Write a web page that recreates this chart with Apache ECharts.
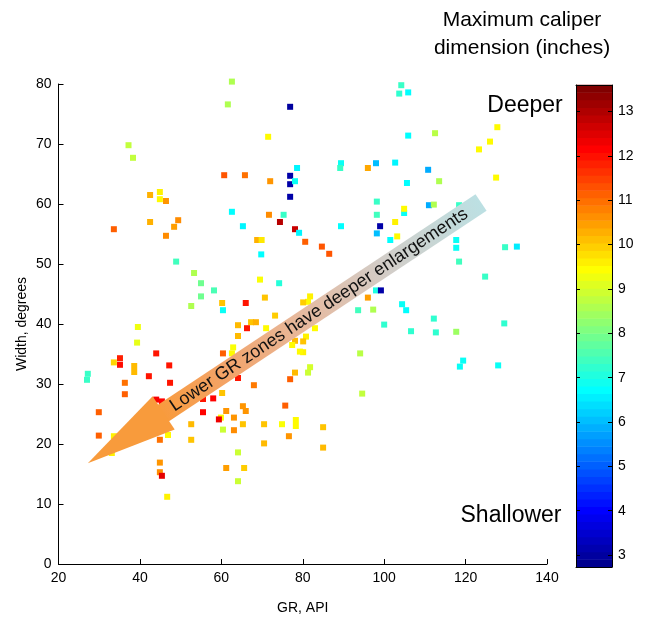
<!DOCTYPE html>
<html><head><meta charset="utf-8">
<script src="https://cdn.jsdelivr.net/npm/echarts@6/dist/echarts.min.js"></script>
<style>html,body{margin:0;padding:0;background:#fff}#c{width:650px;height:620px}</style>
</head><body><div id="c"></div>
<script>
// GR (API)
const gr = [
 37.2, 38.3, 42.5, 44.9, 44.9, 46.4, 49.4, 42.5, 48.4, 33.6,
 46.4, 62.6, 61.6, 76.9, 71.5, 78.6, 60.7, 65.8, 76.9, 76.9,
 78.1, 72.0, 76.9, 62.6, 71.7, 75.3, 65.3, 74.4, 78.1, 79.1,
 68.8, 69.9, 80.6, 104.2, 103.7, 105.9, 105.9, 89.4, 89.2, 98.0,
 96.0, 102.7, 110.8, 105.6, 98.2, 98.2, 104.9, 104.9, 102.7, 89.4,
 99.0, 98.2, 103.2, 101.5, 112.5, 127.8, 126.0, 123.3, 113.5, 127.5,
 111.0, 112.2, 118.4, 117.7, 117.7, 129.7, 132.6, 118.4, 124.8, 112.2,
 129.5, 112.7, 117.7, 119.4, 118.6, 128.0, 84.7, 86.5, 98.0, 99.2,
 96.0, 93.6, 97.3, 104.4, 105.4, 100.0, 106.6, 94.1, 81.8, 81.3,
 94.6, 81.8, 81.3, 80.1, 83.0, 80.8, 80.1, 80.1, 48.9, 39.5,
 39.3, 44.0, 35.1, 35.1, 33.6, 38.6, 38.6, 47.2, 42.2, 47.4,
 27.2, 27.0, 36.3, 36.3, 29.9, 44.0, 45.4, 29.9, 33.6, 33.1,
 52.6, 52.6, 44.9, 44.9, 45.4, 46.7, 44.9, 46.9, 59.9, 55.5,
 55.5, 58.0, 59.4, 60.4, 60.2, 61.2, 63.1, 63.1, 65.3, 65.3,
 66.0, 64.1, 65.6, 61.2, 64.1, 70.5, 70.5, 74.9, 75.7, 76.6,
 78.3, 78.3, 52.6, 60.2, 60.4, 66.0, 73.2, 67.3, 68.5, 64.1,
 64.1, 66.3, 71.0, 78.1, 77.4, 79.3, 62.9, 62.6, 60.4, 78.1,
 76.9, 68.0, 64.1, 85.0, 85.0, 69.8, 53.3, 55.0, 55.0, 58.2,
 69.5, 74.2, 70.7
];
// Width (degrees)
const widthDeg = [
 69.8, 67.7, 61.5, 62.0, 60.8, 60.5, 57.3, 57.0, 56.2, 55.8,
 54.7, 80.4, 76.6, 76.2, 71.2, 66.0, 64.8, 64.8, 64.7, 63.3,
 63.8, 63.8, 61.2, 58.7, 58.2, 58.2, 56.3, 57.0, 55.8, 55.2,
 54.0, 54.0, 53.7, 79.8, 78.4, 78.6, 71.4, 66.8, 66.0, 66.8,
 66.0, 66.9, 65.7, 63.5, 60.4, 58.2, 58.5, 59.2, 57.0, 56.3,
 56.3, 55.1, 54.6, 54.0, 71.8, 72.8, 70.4, 69.1, 63.8, 64.4,
 59.8, 59.9, 59.8, 54.0, 52.7, 52.8, 52.9, 50.4, 47.9, 40.9,
 40.1, 38.6, 38.7, 33.9, 32.9, 33.1, 52.9, 51.7, 45.6, 45.6,
 44.4, 42.3, 42.4, 43.3, 42.3, 39.9, 38.8, 35.1, 32.8, 31.9,
 28.4, 44.6, 43.7, 43.6, 39.3, 37.9, 37.1, 35.3, 50.4, 39.5,
 36.9, 35.1, 34.3, 33.2, 33.6, 33.0, 32.0, 33.1, 31.3, 30.2,
 31.7, 30.7, 30.2, 28.3, 25.3, 27.4, 27.1, 21.4, 21.3, 18.5,
 20.7, 23.3, 16.9, 15.3, 14.7, 11.2, 20.7, 21.5, 24.4, 25.3,
 27.5, 27.6, 24.1, 22.4, 28.5, 25.5, 24.4, 22.3, 23.3, 26.3,
 25.5, 18.6, 16.0, 16.0, 13.8, 23.3, 20.1, 23.3, 26.4, 21.3,
 24.0, 23.0, 43.0, 43.5, 42.3, 43.5, 41.4, 40.3, 40.3, 39.8,
 38.0, 39.3, 39.3, 37.2, 36.5, 35.4, 36.1, 35.1, 35.1, 31.9,
 30.8, 29.8, 31.0, 22.8, 19.4, 51.6, 48.5, 46.8, 44.6, 45.6,
 47.4, 46.8, 44.4
];
// Maximum caliper dimension (inches)
const caliper = [
 8.8, 8.8, 10.3, 9.6, 9.5, 10.6, 10.7, 10.3, 10.5, 11.2,
 10.7, 8.6, 8.6, 2.9, 9.5, 6.6, 11.3, 11.0, 3.0, 3.0,
 6.8, 10.6, 3.0, 6.7, 10.7, 7.3, 6.6, 13.0, 12.8, 6.6,
 10.3, 9.7, 11.2, 7.3, 7.2, 6.7, 6.7, 6.8, 7.3, 6.0,
 10.4, 6.6, 5.8, 6.7, 7.3, 7.4, 6.8, 9.5, 9.6, 6.7,
 3.0, 6.0, 9.5, 6.7, 8.7, 9.5, 9.5, 9.5, 8.6, 9.5,
 5.8, 8.6, 7.3, 6.8, 6.8, 7.3, 6.5, 7.4, 7.3, 7.2,
 7.2, 7.2, 8.4, 6.8, 6.8, 6.8, 11.3, 11.3, 7.0, 3.0,
 10.5, 7.4, 8.6, 6.8, 6.7, 7.2, 7.2, 8.7, 9.0, 8.9,
 8.8, 9.6, 9.5, 10.0, 9.5, 9.6, 10.1, 9.6, 7.4, 9.3,
 9.2, 12.0, 11.9, 12.1, 9.9, 10.2, 10.2, 12.0, 12.0, 12.0,
 7.3, 7.3, 11.0, 11.2, 11.2, 12.3, 12.2, 11.2, 9.6, 9.6,
 10.1, 10.2, 10.6, 10.7, 12.5, 9.6, 11.0, 9.5, 9.5, 12.2,
 12.0, 12.2, 12.4, 8.9, 10.1, 10.6, 10.6, 10.7, 10.1, 10.6,
 10.6, 8.9, 10.0, 10.5, 8.9, 10.1, 10.2, 9.4, 11.2, 10.6,
 9.5, 9.5, 8.6, 10.1, 6.8, 12.0, 10.0, 10.1, 10.3, 10.2,
 10.2, 12.0, 9.5, 10.2, 9.5, 9.5, 9.4, 9.5, 11.2, 10.2,
 11.2, 10.9, 12.0, 10.1, 10.2, 6.7, 8.6, 7.9, 7.9, 7.5,
 9.4, 7.1, 10.1
];
const xTicks = [20, 40, 60, 80, 100, 120, 140];
const yTicks = [0, 10, 20, 30, 40, 50, 60, 70, 80];
const cbTicks = [3, 4, 5, 6, 7, 8, 9, 10, 11, 12, 13];
const cMin = 2.73, cMax = 13.6;
// annotation arrow in data coordinates (tip, tail)
const arrowTip = [27.2, 16.8];
const arrowTail = [123.8, 60.25];

function jet(m) {
  const n = Math.ceil(m / 4);
  const u = [];
  for (let i = 1; i <= n; i++) u.push(i / n);
  for (let i = 1; i < n; i++) u.push(1);
  for (let i = n; i >= 1; i--) u.push(i / n);
  const off = Math.ceil(n / 2) - (m % 4 === 1 ? 1 : 0);
  const J = [];
  for (let i = 0; i < m; i++) J.push([0, 0, 0]);
  for (let k = 0; k < u.length; k++) {
    const g = off + k + 1, r = g + n, b = g - n;
    if (r >= 1 && r <= m) J[r - 1][0] = u[k];
    if (g >= 1 && g <= m) J[g - 1][1] = u[k];
    if (b >= 1 && b <= m) J[b - 1][2] = u[k];
  }
  return J.map(c => 'rgb(' + c.map(v => Math.round(v * 255)).join(',') + ')');
}
const JET = jet(64);
const FONT = '"Liberation Sans", Arial, Helvetica, sans-serif';

const chart = echarts.init(document.getElementById('c'), null, { renderer: 'canvas' });
const pts = gr.map((x, i) => [x, widthDeg[i], caliper[i]]);
const levels = JET.map((c, i) => [i]);
const black = { color: '#000', width: 1 };

chart.setOption({
  animation: false,
  backgroundColor: '#fff',
  grid: [
    { left: 58.5, top: 84, width: 488.5, height: 480 },
    { left: 576, top: 85, width: 36, height: 482 }
  ],
  xAxis: [
    { gridIndex: 0, type: 'value', min: 20, max: 140, interval: 20,
      axisLine: { lineStyle: black }, axisTick: { inside: true, length: 5, lineStyle: black },
      splitLine: { show: false },
      axisLabel: { color: '#000', fontSize: 14, fontFamily: FONT, margin: 7, customValues: xTicks },
      name: 'GR, API', nameLocation: 'middle', nameGap: 37, nameMoveOverlap: false,
      nameTextStyle: { color: '#000', fontSize: 14, fontFamily: FONT } },
    { gridIndex: 1, type: 'value', min: 0, max: 1, position: 'bottom', z: 10,
      axisLine: { onZero: false, lineStyle: black }, axisTick: { show: false }, axisLabel: { show: false }, splitLine: { show: false } },
    { gridIndex: 1, type: 'value', min: 0, max: 1, position: 'top', z: 10,
      axisLine: { onZero: false, lineStyle: black }, axisTick: { show: false }, axisLabel: { show: false }, splitLine: { show: false } }
  ],
  yAxis: [
    { gridIndex: 0, type: 'value', min: 0, max: 80, interval: 10,
      axisLine: { lineStyle: black }, axisTick: { inside: true, length: 5, lineStyle: black },
      splitLine: { show: false },
      axisLabel: { color: '#000', fontSize: 14, fontFamily: FONT, margin: 7, customValues: yTicks },
      name: 'Width, degrees', nameLocation: 'middle', nameGap: 29, nameMoveOverlap: false,
      nameTextStyle: { color: '#000', fontSize: 14, fontFamily: FONT } },
    { gridIndex: 1, type: 'value', min: cMin, max: cMax, position: 'right', z: 10,
      axisLine: { onZero: false, lineStyle: black },
      axisTick: { inside: true, length: 4, lineStyle: black, customValues: cbTicks },
      axisLabel: { color: '#000', fontSize: 14, fontFamily: FONT, margin: 6, customValues: cbTicks },
      splitLine: { show: false } },
    { gridIndex: 1, type: 'value', min: cMin, max: cMax, position: 'left', z: 10,
      axisLine: { onZero: false, lineStyle: black },
      axisTick: { inside: true, length: 4, lineStyle: black, customValues: cbTicks },
      axisLabel: { show: false }, splitLine: { show: false } }
  ],
  visualMap: {
    type: 'continuous', show: false, min: cMin, max: cMax, dimension: 2, seriesIndex: 0,
    inRange: { color: JET }
  },
  series: [
    { type: 'scatter', xAxisIndex: 0, yAxisIndex: 0, symbol: 'rect', symbolSize: 6, clip: false,
      data: pts, itemStyle: { opacity: 1 }, emphasis: { disabled: true } },
    { type: 'custom', xAxisIndex: 1, yAxisIndex: 1, data: levels, silent: true,
      renderItem: function (params, api) {
        const i = api.value(0);
        const step = (cMax - cMin) / 64;
        const p1 = api.coord([0, cMin + (i + 1) * step]);
        const p2 = api.coord([1, cMin + i * step]);
        return { type: 'rect',
          shape: { x: p1[0], y: p1[1] - 0.3, width: p2[0] - p1[0], height: p2[1] - p1[1] + 0.6 },
          style: { fill: JET[i] } };
      } }
  ]
});

// arrow annotation
const tip = chart.convertToPixel({ gridIndex: 0 }, arrowTip);
const tail = chart.convertToPixel({ gridIndex: 0 }, arrowTail);
const dx = tail[0] - tip[0], dy = tail[1] - tip[1];
const L = Math.hypot(dx, dy);
const ux = dx / L, uy = dy / L, nx = -uy, ny = ux;
const headLen = 91, headHW = 20, shaftHW = 10;
const P = (a, b) => [tip[0] + ux * a + nx * b, tip[1] + uy * a + ny * b];
const headPts = [P(0, 0), P(headLen, headHW), P(headLen, -headHW)];
const shaftPts = [P(headLen - 2, shaftHW), P(L, shaftHW), P(L, -shaftHW), P(headLen - 2, -shaftHW)];
const base = P(headLen, 0);
const textC = P((headLen + L) / 2 - 4, 0);

const T = (text, x, y, size) => ({ type: 'text', x: x, y: y, z: 100,
  style: { text: text, fontSize: size, fontFamily: FONT, fill: '#000', align: 'center', verticalAlign: 'middle' } });

chart.setOption({
  graphic: [
    { type: 'polygon', z: 50, shape: { points: shaftPts },
      style: { fill: { type: 'linear', x: base[0], y: base[1], x2: tail[0], y2: tail[1], global: true,
        colorStops: [
          { offset: 0, color: '#F89B3E' },
          { offset: 0.2, color: '#F3A46A' },
          { offset: 0.45, color: '#E6BAA0' },
          { offset: 0.7, color: '#D2CDC8' },
          { offset: 1, color: '#BCE0E3' } ] } } },
    { type: 'polygon', z: 51, shape: { points: headPts }, style: { fill: '#F89B3C' } },
    { type: 'text', x: textC[0], y: textC[1], rotation: Math.atan2(-(tail[1] - tip[1]), tail[0] - tip[0]), z: 60,
      style: { text: 'Lower GR zones have deeper enlargements', fontSize: 18, fontFamily: FONT, fill: '#111',
        align: 'center', verticalAlign: 'middle' } },
    T('Maximum caliper', 522, 20, 21),
    T('dimension (inches)', 522, 48, 21),
    T('Deeper', 525, 106, 23),
    T('Shallower', 511, 516, 23)
  ]
});
</script>
</body></html>
